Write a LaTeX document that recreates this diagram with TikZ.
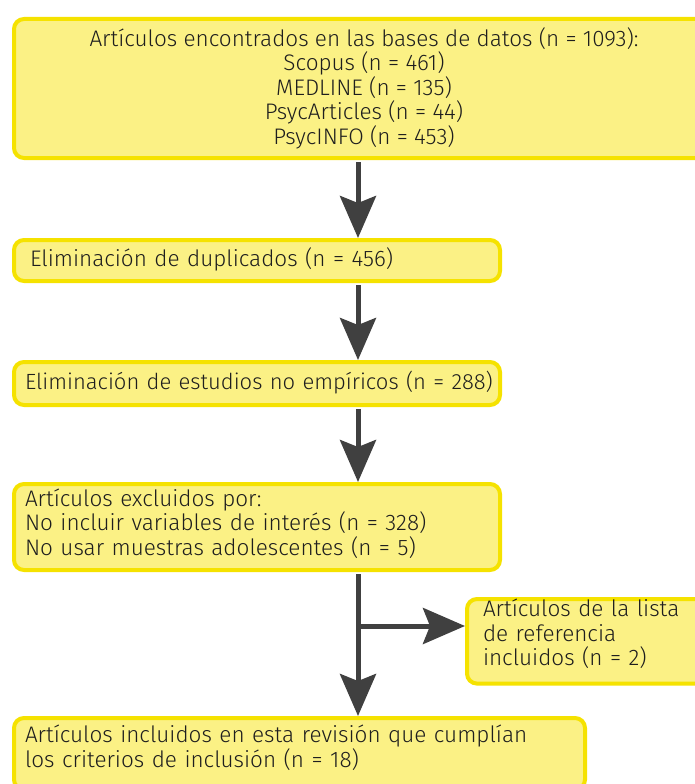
\documentclass[tikz,border=0pt]{standalone}
\usepackage{fontspec}
\setmainfont{Fira Sans Light}
\usetikzlibrary{arrows.meta}
\definecolor{cajafondo}{RGB}{251,241,133}
\definecolor{cajaborde}{RGB}{245,226,0}
\definecolor{flechagris}{RGB}{64,64,64}
\definecolor{textogris}{RGB}{30,30,30}

\begin{document}
\begin{tikzpicture}[x=1pt,y=-1pt,  % coordenadas en pixeles, y hacia abajo
    caja/.style={draw=cajaborde, fill=cajafondo, line width=4pt, rounded corners=10pt,
        anchor=north west, inner ysep=0pt, text=textogris,
        font=\fontsize{22.5}{24.5}\selectfont},
    flecha/.style={draw=flechagris, line width=5pt,
        -{Stealth[length=42pt,width=36pt,inset=7pt]}}]
    % Marco de la figura
    \useasboundingbox (0,0) rectangle (695,784);
    \clip (0,0) rectangle (695,784);

    % Cajas del diagrama
    \node[caja, minimum width=700pt, minimum height=139pt, text depth=5pt, align=center] (arts) at (12,17)
        {Artículos encontrados en las bases de datos (n = 1093):\\
         Scopus (n = 461)\\ MEDLINE (n = 135)\\ PsycArticles (n = 44)\\ PsycINFO (n = 453)};
    \node[caja, minimum height=41pt, inner xsep=16pt, text width=454pt, text depth=7pt, align=left] (dup) at (12,238)
        {Eliminación de duplicados (n = 456)};
    \node[caja, minimum height=43pt, inner xsep=11pt, text width=464pt, text depth=7pt, align=left,
        font=\fontsize{22}{24.5}\selectfont] (noemp) at (12,360)
        {\mbox{Eliminación de estudios no empíricos (n = 288)}};
    \node[caja, minimum height=86pt, inner xsep=11pt, text width=464pt, text depth=59pt, align=left] (excl) at (12,482)
        {Artículos excluidos por:\\
         No incluir variables de interés (n = 328)\\
         No usar muestras adolescentes (n = 5)};
    \node[caja, minimum height=83pt, inner xsep=16pt, text width=218pt, text depth=67pt, align=left] (refs) at (465,597)
        {Artículos de la lista\\ de referencia\\ incluidos (n = 2)};
    \node[caja, inner xsep=11pt, inner ysep=7pt, text width=549pt, text depth=40pt, align=left] (incl) at (12,716)
        {Artículos incluidos en esta revisión que cumplían\\
         los criterios de inclusión (n = 18)};

    % Eje de las flechas
    \coordinate (eje) at (358,0);
    \coordinate (rama) at (358,626);

    % Flechas
    \draw[flecha, shorten <=2pt] (arts.south -| eje) -- (dup.north -| eje);
    \draw[flecha, shorten <=2pt] (dup.south -| eje) -- (noemp.north -| eje);
    \draw[flecha, shorten <=2pt] (noemp.south -| eje) -- (excl.north -| eje);
    \draw[flecha, shorten <=2pt] (excl.south -| eje) -- (incl.north -| eje);
    \draw[flecha] (rama) -- (refs.west |- rama);
\end{tikzpicture}
\end{document}
